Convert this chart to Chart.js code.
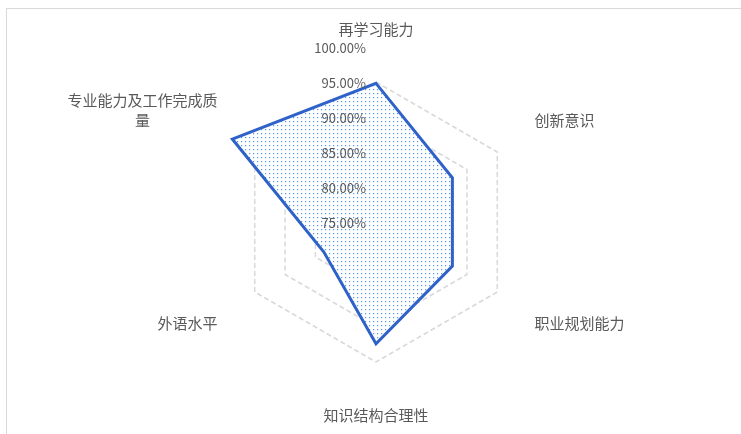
<!doctype html>
<html lang="zh">
<head>
<meta charset="utf-8">
<title>能力雷达图</title>
<style>
  *{box-sizing:border-box;margin:0;padding:0}
  html,body{width:741px;height:434px;overflow:hidden;background:#fff}
  .frame{position:absolute;left:6px;top:8px;width:800px;height:500px;border:1px solid #d9d9d9}
  #radar{position:absolute;left:0;top:0}
</style>
</head>
<body>
<div class="frame"></div>
<canvas id="radar" width="741" height="434"></canvas>

<script src="https://cdn.jsdelivr.net/npm/chart.js"></script>
<script>
// categories (last one wraps onto two lines like the original)
const LABELS = ['再学习能力', '创新意识', '职业规划能力', '知识结构合理性', '外语水平', ['专业能力及工作完成质', '量']];
// percentages
const VALUES = [94.8, 87.6, 87.6, 92.4, 83.6, 98.7];
// radial axis
const R_MIN = 75, R_MAX = 100, R_STEP = 5;

const TEXT = '#595959';
const FONT = '"Noto Sans CJK SC","Noto Sans",sans-serif';

// white background with small blue dots, like the Excel pattern fill
function dotPattern(){
  const c = document.createElement('canvas');
  c.width = 4; c.height = 4;
  const g = c.getContext('2d');
  g.fillStyle = '#fff'; g.fillRect(0,0,4,4);
  g.fillStyle = '#dce9fb'; g.fillRect(1,2,1,1); g.fillRect(2,1,1,1);
  g.fillStyle = '#4f96ec'; g.fillRect(1,1,1,1);
  return g.createPattern(c, 'repeat');
}

// tick labels left of the vertical axis, on top of the fill
const tickText = { id:'tickText', afterDatasetsDraw(chart){
  const s = chart.scales.r, ctx = chart.ctx;
  ctx.save();
  ctx.font = '13px ' + FONT; ctx.fillStyle = TEXT;
  ctx.textAlign = 'right'; ctx.textBaseline = 'middle';
  s.ticks.forEach(t => {
    const y = s.yCenter - s.getDistanceFromCenterForValue(t.value);
    ctx.fillText(t.label, s.xCenter - 10, y + 1);
  });
  ctx.restore();
}};

// category labels around the web
const catText = { id:'catText', afterDraw(chart){
  const s = chart.scales.r, ctx = chart.ctx, lh = 20;
  ctx.save();
  ctx.font = '15px ' + FONT; ctx.fillStyle = TEXT; ctx.textBaseline = 'middle';
  LABELS.forEach((lab, i) => {
    const p = s.getPointPosition(i, s.drawingArea + 8);
    const lines = Array.isArray(lab) ? lab : [lab];
    const w = Math.max(...lines.map(l => ctx.measureText(l).width));
    const cx = Math.cos(p.angle), sy = Math.sin(p.angle);
    let left = Math.abs(cx) < 0.05 ? p.x - w/2 : (cx > 0 ? p.x : p.x - w);
    let top = sy < 0 ? p.y - lines.length*lh : p.y;
    ctx.textAlign = 'center';
    lines.forEach((l, k) => ctx.fillText(l, left + w/2, top + lh*k + lh/2));
  });
  ctx.restore();
}};

new Chart(document.getElementById('radar'), {
  type: 'radar',
  data: {
    labels: LABELS,
    datasets: [{
      data: VALUES,
      borderColor: '#2f62c9',
      borderWidth: 3,
      backgroundColor: dotPattern(),
      fill: true,
      pointRadius: 0,
      pointHoverRadius: 0
    }]
  },
  options: {
    responsive: false,
    animation: false,
    layout: { padding: { top: 47, bottom: 37, left: 100, right: 89 } },
    plugins: { legend: { display: false }, tooltip: { enabled: false } },
    scales: {
      r: {
        min: R_MIN, max: R_MAX,
        ticks: { stepSize: R_STEP, display: false, callback: v => v.toFixed(2) + '%' },
        pointLabels: { display: false },
        angleLines: { display: false },
        grid: {
          color: c => (c.tick && c.tick.value >= R_MAX) ? 'rgba(0,0,0,0)' : '#d9d9d9',
          lineWidth: 1.5
        },
        border: { dash: [5, 3] }
      }
    }
  },
  plugins: [tickText, catText]
});
</script>
</body>
</html>
